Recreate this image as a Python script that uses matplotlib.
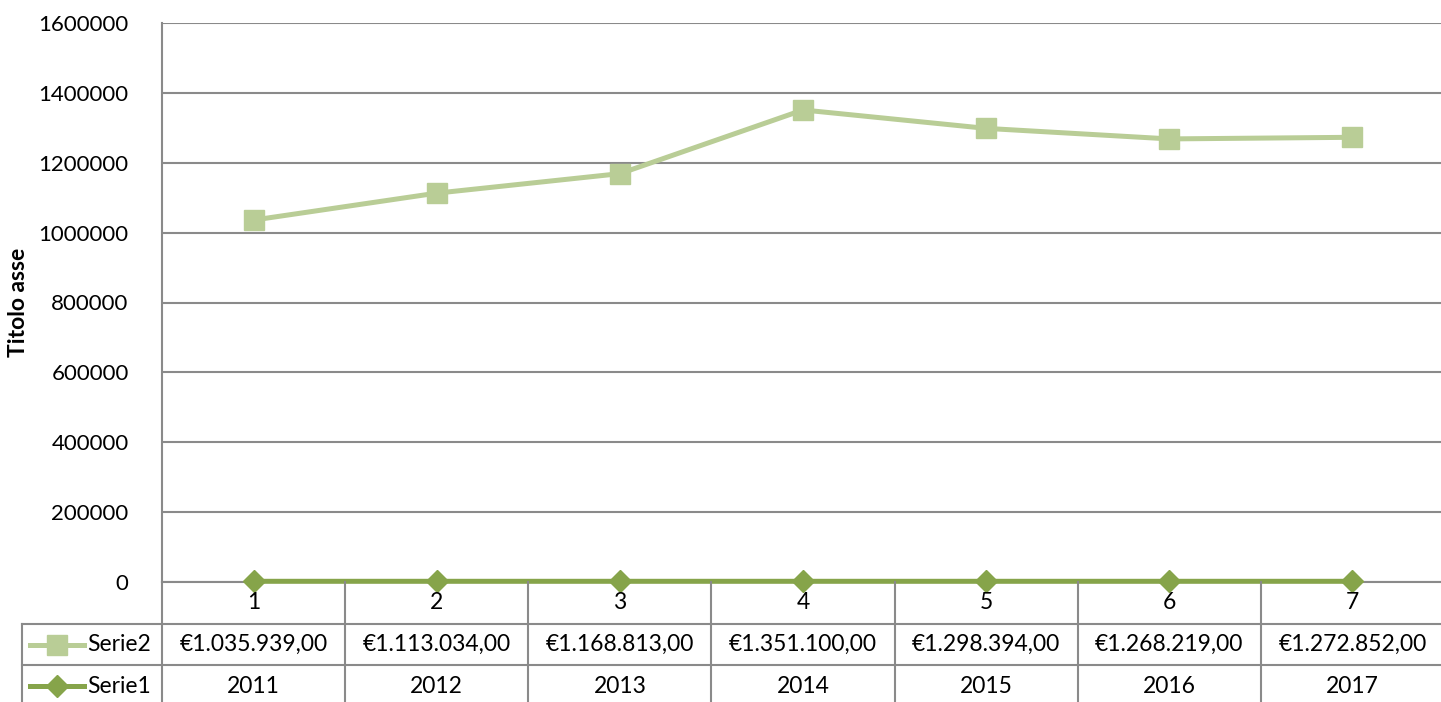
import matplotlib
matplotlib.use("Agg")
import matplotlib.pyplot as plt

categories = [1, 2, 3, 4, 5, 6, 7]
serie2 = [1035939, 1113034, 1168813, 1351100, 1298394, 1268219, 1272852]
serie1 = [2011, 2012, 2013, 2014, 2015, 2016, 2017]
yticks = [0, 200000, 400000, 600000, 800000, 1000000, 1200000, 1400000, 1600000]

def eur(v):
    s = f"{v:,.2f}"
    s = s.replace(",", "X").replace(".", ",").replace("X", ".")
    return "€" + s

plt.rcParams['font.family'] = ['Lato', 'DejaVu Sans']
W, H = 1441, 702
fig = plt.figure(figsize=(W / 100, H / 100), dpi=100)
GRID = '#8a8a8a'
C2 = '#b9cd96'
C1 = '#86a44a'
FS = 16.5

left_px, right_px, top_px, axis_px, bot_px = 162, 1444, 23, 582, 707
ax = fig.add_axes([left_px / W, (H - axis_px) / H, (right_px - left_px) / W, (axis_px - top_px) / H])
ax.set_xlim(0.5, 7.5)
ax.set_ylim(0, 1600000)
ax.set_yticks(yticks)
ax.set_yticklabels([str(v) for v in yticks], fontsize=16)
ax.tick_params(axis='y', length=0, pad=24)
ax.set_xticks([])
ax.yaxis.grid(True, color=GRID, linewidth=1.5)
ax.set_axisbelow(True)
for s in ['top', 'right']:
    ax.spines[s].set_visible(False)
for s in ['left', 'bottom']:
    ax.spines[s].set_color(GRID)
    ax.spines[s].set_linewidth(1.5)
ax.set_ylabel('Titolo asse', fontsize=16.5, fontweight='bold')
ax.yaxis.label.set_va('center')
ax.yaxis.set_label_coords(-(162 - 19) / (right_px - left_px), 0.5)

ax.plot(categories, serie2, color=C2, linewidth=3.6, marker='s', markersize=14,
        markerfacecolor=C2, markeredgecolor=C2, clip_on=False, zorder=3)
ax.plot(categories, serie1, color=C1, linewidth=3.6, marker='D', markersize=11,
        markerfacecolor=C1, markeredgecolor=C1, clip_on=False, zorder=3)

# data table
tb = fig.add_axes([left_px / W, (H - bot_px) / H, (right_px - left_px) / W, (bot_px - axis_px) / H])
tb.set_xlim(0.5, 7.5)
tb.set_ylim(3, 0)
tb.axis('off')
cw = (right_px - left_px) / 7.0
x_tab_left = 0.5 - (left_px - 22) / cw
lk = dict(color=GRID, linewidth=1.5, clip_on=False)
for yy in (1, 2, 3):
    tb.plot([x_tab_left, 7.5], [yy, yy], **lk)
for i in range(8):
    tb.plot([0.5 + i, 0.5 + i], [0, 3], **lk)
tb.plot([x_tab_left, x_tab_left], [1, 3], **lk)

for c in categories:
    tb.text(c, 0.5, str(c), ha='center', va='center', fontsize=FS)
for c, v in zip(categories, serie2):
    tb.text(c, 1.5, eur(v), ha='center', va='center', fontsize=FS)
for c, v in zip(categories, serie1):
    tb.text(c, 2.5, str(v), ha='center', va='center', fontsize=FS)

# legend keys
kx0 = 0.5 - (left_px - 30) / cw
kx1 = 0.5 - (left_px - 84) / cw
kxm = (kx0 + kx1) / 2
tb.plot([kx0, kx1], [1.5, 1.5], color=C2, linewidth=3.6, clip_on=False)
tb.plot([kxm], [1.5], marker='s', markersize=14, color=C2, clip_on=False)
tb.plot([kx0, kx1], [2.5, 2.5], color=C1, linewidth=3.6, clip_on=False)
tb.plot([kxm], [2.5], marker='D', markersize=11, color=C1, clip_on=False)
tx = 0.5 - (left_px - 87) / cw
tb.text(tx, 1.5, 'Serie2', ha='left', va='center', fontsize=FS)
tb.text(tx, 2.5, 'Serie1', ha='left', va='center', fontsize=FS)

fig.savefig('out.png', dpi=100)
